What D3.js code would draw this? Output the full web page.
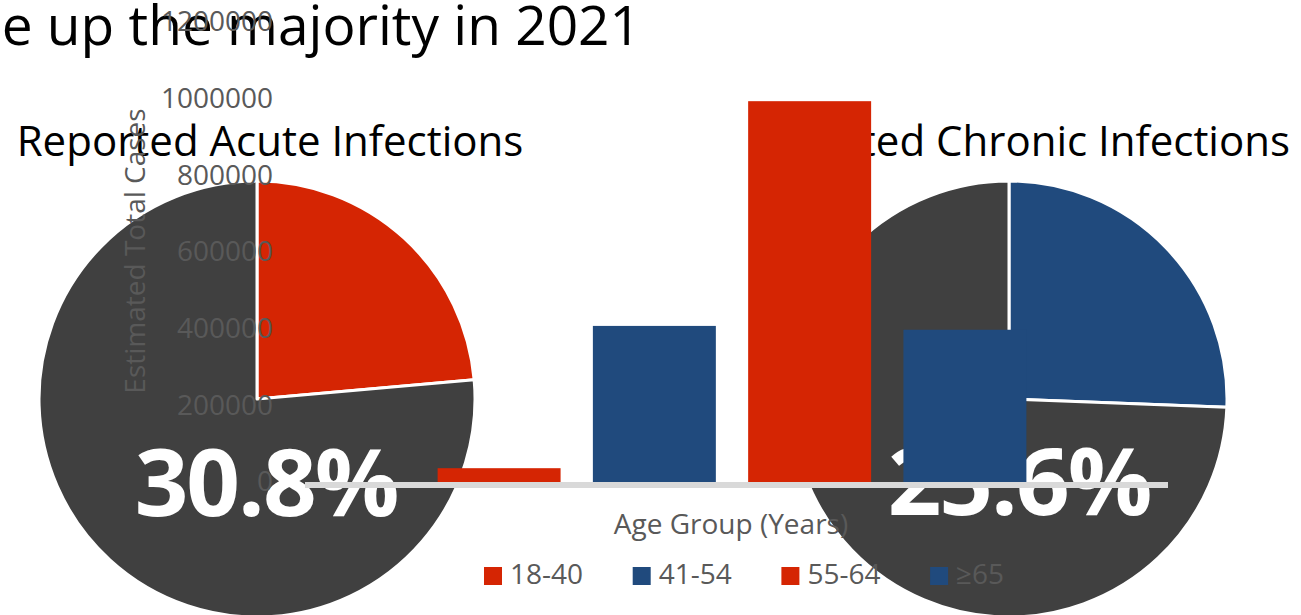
<!DOCTYPE html>
<html><head><meta charset="utf-8">
<script src="https://cdn.jsdelivr.net/npm/d3@7"></script>
<style>body{margin:0;background:#fff;overflow:hidden}svg{display:block}</style>
</head><body><svg id="c" width="1301" height="615"></svg>
<script>
// ---- data ----
const slideTitle = "e up the majority in 2021";
const pieTitles = ["Reported Acute Infections", "Estimated Chronic Infections"];
const pieLabels = ["30.8%", "25.6%"];
const acuteShares = [23.6, 76.4];     // highlighted, rest
const chronicShares = [25.6, 74.4];   // highlighted, rest
const seriesNames = ["18-40", "41-54", "55-64", "≥65"];
const seriesValues = [36000, 407000, 993000, 397000];
const yTicks = [0, 200000, 400000, 600000, 800000, 1000000, 1200000];
const xTitle = "Age Group (Years)";
const yTitle = "Estimated Total Cases";

const RED = "#D52503", BLUE = "#204A7D", DARK = "#404040", GREY = "#595959";
const seriesColors = [RED, BLUE, RED, BLUE];

const svg = d3.select("#c");
svg.append("defs").append("clipPath").attr("id", "rightChart")
  .append("rect").attr("x", 749).attr("y", 0).attr("width", 552).attr("height", 615);

// slide title
svg.append("text").attr("x", 641).attr("y", 45).attr("text-anchor", "end")
  .attr("font-family", "Open Sans").attr("font-size", 55).attr("fill", "#000").text(slideTitle);

// pies
const pie = d3.pie().sort(null).value(d => d);
const arc = d3.arc().innerRadius(0).outerRadius(218);
const pies = [
  {cx: 257, cy: 399, shares: acuteShares, colors: [RED, DARK]},
  {cx: 1009, cy: 399, shares: chronicShares, colors: [BLUE, DARK]}
];
const leftChart = svg.append("g");
const rightChart = svg.append("g").attr("clip-path", "url(#rightChart)");
const charts = [leftChart, rightChart];
pies.forEach((p, k) => {
  const g = charts[k].append("g").attr("transform", `translate(${p.cx},${p.cy})`);
  g.selectAll("path").data(pie(p.shares)).join("path")
    .attr("d", arc).attr("fill", (d, i) => p.colors[i])
    .attr("stroke", "#fff").attr("stroke-width", 3).attr("stroke-linejoin", "round");
});

// pie titles
leftChart.append("text").attr("x", 270).attr("y", 156).attr("text-anchor", "middle")
  .attr("font-family", "Open Sans").attr("font-size", 42).attr("fill", "#000").text(pieTitles[0]);
rightChart.append("text").attr("x", 1290).attr("y", 156).attr("text-anchor", "end")
  .attr("font-family", "Open Sans").attr("font-size", 42).attr("fill", "#000").text(pieTitles[1]);

// big percentages
[[266, 516], [1019, 515]].forEach((pos, i) => {
  charts[i].append("text").attr("x", pos[0]).attr("y", pos[1]).attr("text-anchor", "middle")
    .attr("font-family", "Open Sans").attr("font-weight", 700).attr("font-size", 94)
    .attr("letter-spacing", -2).attr("fill", "#fff").text(pieLabels[i]);
});

// ---- bar chart ----
const y = d3.scaleLinear().domain([0, 1200000]).range([482, 21.8]);
const x = d3.scaleBand().domain(seriesNames).range([300.5, 1163.5])
  .paddingInner(0.208).paddingOuter(0.883);

svg.append("g").selectAll("rect").data(seriesNames).join("rect")
  .attr("x", d => x(d)).attr("width", x.bandwidth())
  .attr("y", (d, i) => y(seriesValues[i]))
  .attr("height", (d, i) => y(0) - y(seriesValues[i]))
  .attr("fill", (d, i) => seriesColors[i]);

// axis line
svg.append("line").attr("x1", 305).attr("x2", 1168).attr("y1", 485).attr("y2", 485)
  .attr("stroke", "#D9D9D9").attr("stroke-width", 6);

// y axis
const yAxis = svg.append("g").attr("transform", "translate(305,0)")
  .call(d3.axisLeft(y).tickValues(yTicks).tickSize(0).tickPadding(32).tickFormat(d3.format("d")));
yAxis.select(".domain").remove();
yAxis.selectAll("text").attr("font-family", "Open Sans").attr("font-size", 28).attr("fill", GREY);

// axis titles
svg.append("text").attr("transform", "translate(145,251) rotate(-90)").attr("text-anchor", "middle")
  .attr("font-family", "Open Sans").attr("font-size", 28).attr("fill", GREY).text(yTitle);
svg.append("text").attr("x", 731).attr("y", 534).attr("text-anchor", "middle")
  .attr("font-family", "Open Sans").attr("font-size", 28).attr("fill", GREY).text(xTitle);

// legend
const lg = svg.append("g").selectAll("g").data(seriesNames).join("g")
  .attr("transform", (d, i) => `translate(${484 + i * 148.7},567)`);
lg.append("rect").attr("width", 18).attr("height", 18).attr("fill", (d, i) => seriesColors[i]);
lg.append("text").attr("x", 26).attr("y", 17).attr("font-family", "Open Sans")
  .attr("font-size", 28).attr("fill", GREY).text(d => d);
</script></body></html>
